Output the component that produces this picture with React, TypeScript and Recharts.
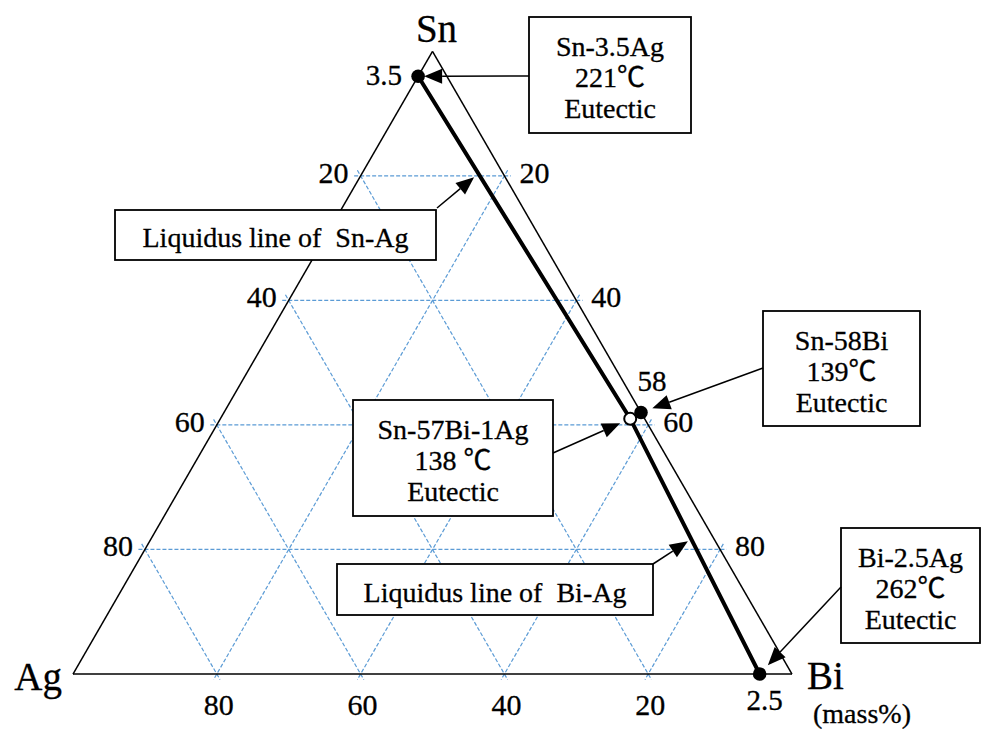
import React from "react";
import { ScatterChart, Scatter, XAxis, YAxis, ReferenceLine, ReferenceArea } from "recharts";

document.body.style.margin = "0";

// eutectic compositions (mass% Sn, Ag, Bi) as drawn in the figure
const pointNames = ["Sn-3.5Ag", "Sn-57Bi-1Ag", "Sn-58Bi", "Bi-2.5Ag"];
const pointSn = [96, 41, 42, 0];
const pointAg = [4, 2, 0, 4.5];
const pointBi = [0, 57, 58, 95.5];
const pointOpen = [false, true, false, false];
const pointTags = ["3.5", "", "58", "2.5"];

// liquidus line runs through these points
const liquidusPath = ["Sn-3.5Ag", "Sn-57Bi-1Ag", "Bi-2.5Ag"];

const gridLevels = [20, 40, 60, 80];
const leftTicks = [20, 40, 60, 80]; // Ag on the Sn-Ag side
const rightTicks = [20, 40, 60, 80]; // Bi on the Sn-Bi side
const bottomTicks = [80, 60, 40, 20]; // Ag on the Ag-Bi side

const calloutText = [
  ["Sn-3.5Ag", "221℃", "Eutectic"],
  ["Liquidus line of  Sn-Ag"],
  ["Sn-58Bi", "139℃", "Eutectic"],
  ["Sn-57Bi-1Ag", "138 ℃", "Eutectic"],
  ["Liquidus line of  Bi-Ag"],
  ["Bi-2.5Ag", "262℃", "Eutectic"],
];
// where each callout arrow points (Sn, Ag, Bi)
const calloutTargetSn = [96, 80, 42, 41, 21.5, 0];
const calloutTargetAg = [4, 4, 0, 2, 3.5, 4.5];
const calloutTargetBi = [0, 16, 58, 57, 75, 95.5];

const W = 982;
const H = 729;
const AG_X = 73;
const BI_X = 792;
const BASE_Y = 674;
const PX = (BI_X - AG_X) / 100;
const R3 = Math.sqrt(3) / 2;
const FONT = "'Liberation Serif', 'Noto Sans CJK JP', serif";
const GRID = "#5b9bd5";

const tern = (sn: number, ag: number, bi: number) => {
  const t = sn + ag + bi;
  return { x: ((bi + sn / 2) / t) * 100, y: ((sn * R3) / t) * 100 };
};
const fromPx = (px: number, py: number) => ({ x: (px - AG_X) / PX, y: (BASE_Y - py) / PX });

// callout boxes, px layout [left, top, right, bottom], arrow start and gap
const boxes = [
  { r: [529, 17, 691, 133], from: [529, 76], gap: 6 },
  { r: [115, 210, 436, 260], from: [437, 208], gap: 2 },
  { r: [763, 311, 920, 426], from: [763, 368], gap: 12 },
  { r: [353, 400, 553, 516], from: [553, 453], gap: 11 },
  { r: [337, 564, 653, 615], from: [653, 564], gap: 2 },
  { r: [841, 528, 980, 643], from: [841, 587], gap: 12 },
];

const extend = (a: { x: number; y: number }, b: { x: number; y: number }, e: number) => {
  const dx = b.x - a.x;
  const dy = b.y - a.y;
  const l = Math.hypot(dx, dy);
  return [
    { x: a.x - (dx / l) * e, y: a.y - (dy / l) * e },
    { x: b.x + (dx / l) * e, y: b.y + (dy / l) * e },
  ];
};

function Arrow(p: any) {
  const { x1, y1, x2, y2, gap } = p;
  const dx = x2 - x1;
  const dy = y2 - y1;
  const len = Math.hypot(dx, dy);
  const ux = dx / len;
  const uy = dy / len;
  const tx = x2 - ux * gap;
  const ty = y2 - uy * gap;
  const hl = 18;
  const hw = 7.5;
  const bx = tx - ux * hl;
  const by = ty - uy * hl;
  const pts = `${tx},${ty} ${bx - uy * hw},${by + ux * hw} ${bx + uy * hw},${by - ux * hw}`;
  return (
    <g>
      <line x1={x1} y1={y1} x2={bx} y2={by} stroke="#000" strokeWidth={1.5} />
      <polygon points={pts} fill="#000" />
    </g>
  );
}

function Box(p: any) {
  const { x, y, width, height, lines } = p;
  const mid = y + height / 2 + 3;
  const step = 31;
  return (
    <g>
      <rect x={x} y={y} width={width} height={height} fill="#fff" stroke="#000" strokeWidth={1.8} />
      {lines.map((t: string, i: number) => (
        <text
          key={i}
          x={x + width / 2}
          y={mid + (i - (lines.length - 1) / 2) * step + 9}
          textAnchor="middle"
          fontSize={28}
          fontFamily={FONT}
          fill="#000"
          stroke="#000"
          strokeWidth={0.3}
          style={{ whiteSpace: "pre" }}
        >
          {t}
        </text>
      ))}
    </g>
  );
}

export default function App() {
  const points = pointNames.map((name, i) => ({
    name,
    ...tern(pointSn[i], pointAg[i], pointBi[i]),
    open: pointOpen[i],
    tag: pointTags[i],
  }));
  const byName: Record<string, any> = Object.fromEntries(points.map((p) => [p.name, p]));
  const liquidus = liquidusPath.map((n) => byName[n]);

  const vAg = tern(0, 100, 0);
  const vBi = tern(0, 0, 100);
  const vSn = tern(100, 0, 0);

  const grid: { x: number; y: number }[][] = [];
  gridLevels.forEach((c) => {
    grid.push(extend(tern(c, 100 - c, 0), tern(c, 0, 100 - c), 0.9));
    grid.push(extend(tern(100 - c, c, 0), tern(0, c, 100 - c), 0.9));
    grid.push(extend(tern(100 - c, 0, c), tern(0, 100 - c, c), 0.9));
  });

  const leftData = leftTicks.map((v) => ({ ...tern(100 - v, v, 0), label: String(v) }));
  const rightData = rightTicks.map((v) => ({ ...tern(100 - v, 0, v), label: String(v) }));
  const bottomData = bottomTicks.map((v) => ({ ...tern(0, v, 100 - v), label: String(v) }));
  const vertexData = [
    { ...vSn, label: "Sn", dx: 4, dy: -9, anchor: "middle" },
    { ...vAg, label: "Ag", dx: -11, dy: 16, anchor: "end" },
    { ...vBi, label: "Bi", dx: 15, dy: 15, anchor: "start" },
  ];
  const tagOffsets: Record<string, [number, number, string]> = {
    "3.5": [-16, 9, "end"],
    "58": [11, -21, "middle"],
    "2.5": [5, 36, "middle"],
  };

  const textShape = (dx: number, dy: number, anchor: string, size: number) => (p: any) => (
    <text
      x={p.cx + dx}
      y={p.cy + dy}
      textAnchor={anchor}
      fontSize={size}
      fontFamily={FONT}
      fill="#000"
      stroke="#000"
      strokeWidth={0.3}
    >
      {p.payload.label}
    </text>
  );

  return (
    <ScatterChart width={W} height={H} margin={{ top: 0, right: 0, bottom: 0, left: 0 }}>
      <XAxis type="number" dataKey="x" domain={[-AG_X / PX, (W - AG_X) / PX]} hide allowDataOverflow />
      <YAxis type="number" dataKey="y" domain={[-(H - BASE_Y) / PX, BASE_Y / PX]} hide allowDataOverflow />
      {grid.map((s, i) => (
        <ReferenceLine
          key={`g${i}`}
          segment={s}
          stroke={GRID}
          strokeWidth={1.2}
          strokeDasharray="4 2"
          ifOverflow="visible"
          zIndex={-20}
        />
      ))}
      {[
        [vAg, vBi],
        [vBi, vSn],
        [vSn, vAg],
      ].map((s, i) => (
        <ReferenceLine key={`e${i}`} segment={s} stroke="#000" strokeWidth={1.5} ifOverflow="visible" zIndex={-10} />
      ))}
      {boxes.map((b, i) => {
        const a = fromPx(b.r[0], b.r[3]);
        const c = fromPx(b.r[2], b.r[1]);
        return (
          <ReferenceArea
            key={`b${i}`}
            x1={a.x}
            x2={c.x}
            y1={a.y}
            y2={c.y}
            ifOverflow="visible"
            zIndex={50}
            shape={(p: any) => <Box {...p} lines={calloutText[i]} />}
          />
        );
      })}
      {boxes.map((b, i) => {
        const s = fromPx(b.from[0], b.from[1]);
        const t = tern(calloutTargetSn[i], calloutTargetAg[i], calloutTargetBi[i]);
        return (
          <ReferenceLine
            key={`a${i}`}
            segment={[s, t]}
            ifOverflow="visible"
            zIndex={60}
            shape={(p: any) => <Arrow {...p} gap={b.gap} />}
          />
        );
      })}
      <Scatter
        data={liquidus}
        line={{ stroke: "#000", strokeWidth: 4 }}
        shape={() => <g />}
        isAnimationActive={false}
      />
      <Scatter
        data={points}
        isAnimationActive={false}
        shape={(p: any) =>
          p.payload.open ? (
            <circle cx={p.cx} cy={p.cy} r={6} fill="#fff" stroke="#000" strokeWidth={2} />
          ) : (
            <circle cx={p.cx} cy={p.cy} r={6.8} fill="#000" />
          )
        }
      />
      <Scatter
        data={points.filter((p) => p.tag)}
        isAnimationActive={false}
        shape={(p: any) => {
          const [dx, dy, anchor] = tagOffsets[p.payload.tag];
          return (
            <text
              x={p.cx + dx}
              y={p.cy + dy}
              textAnchor={anchor}
              fontSize={29}
              fontFamily={FONT}
              fill="#000"
              stroke="#000"
              strokeWidth={0.3}
            >
              {p.payload.tag}
            </text>
          );
        }}
      />
      <Scatter data={leftData} isAnimationActive={false} shape={textShape(-12, 7, "end", 30)} />
      <Scatter data={rightData} isAnimationActive={false} shape={textShape(15, 7, "start", 30)} />
      <Scatter data={bottomData} isAnimationActive={false} shape={textShape(2, 41, "middle", 30)} />
      <Scatter
        data={vertexData}
        isAnimationActive={false}
        shape={(p: any) => (
          <text
            x={p.cx + p.payload.dx}
            y={p.cy + p.payload.dy}
            textAnchor={p.payload.anchor}
            fontSize={39}
            fontFamily={FONT}
            fill="#000"
            stroke="#000"
            strokeWidth={0.3}
          >
            {p.payload.label}
          </text>
        )}
      />
      <Scatter
        data={[{ ...vBi, label: "(mass%)" }]}
        isAnimationActive={false}
        shape={textShape(21, 49, "start", 28)}
      />
    </ScatterChart>
  );
}
